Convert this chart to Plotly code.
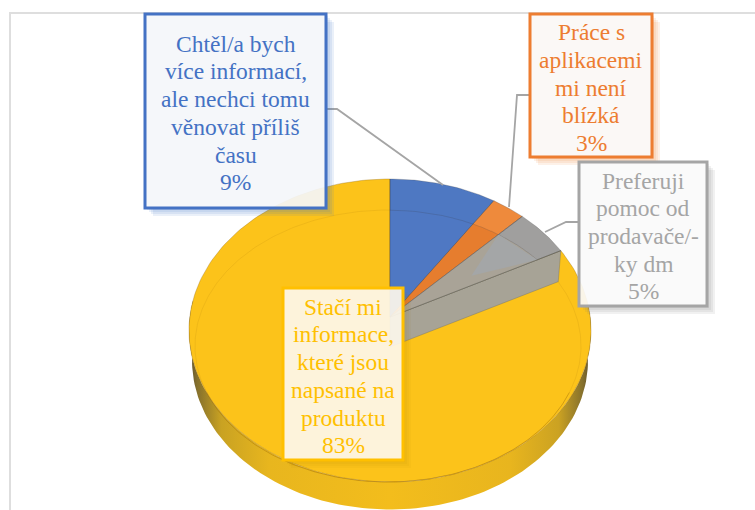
import math
import plotly.graph_objects as go

categories = [["Chtěl/a bych", "více informací,", "ale nechci tomu", "věnovat příliš", "času"],
              ["Práce s", "aplikacemi", "mi není", "blízká"],
              ["Preferuji", "pomoc od", "prodavače/-", "ky dm"],
              ["Stačí mi", "informace,", "které jsou", "napsané na", "produktu"]]
values = [9.4, 3.0, 5.0, 82.6]
pct_labels = ["9%", "3%", "5%", "83%"]
slice_colors = ["#4E78C2", "#EE8A3C", "#A09F9E", "#FCC31A"]
inner_colors = ["#4F78C3", "#E67D2E", "#A9A397", "#FCC31A"]
theme_colors = ["#4472C4", "#ED7D31", "#A5A5A5", "#FFC000"]
box_fills = ["rgba(244,246,250,0.92)", "rgba(251,247,245,0.92)",
             "rgba(250,250,250,0.92)", "rgba(253,247,235,0.92)"]
boxes = [(145, 14, 326, 208), (530, 14, 652, 157), (579, 162, 707, 306), (283, 288, 403, 460)]
leaders = [[(326, 109), (337, 109), (443, 185)],
           [(530, 95), (517, 95), (509, 207)],
           [(579, 222), (566, 222), (545, 232)]]

CX, CY, AX, BY, K = 390.0, 317.0, 200.2, 150.3, 0.0891
DROP, SHRINK = 30.0, 0.985
LINE_H = 27.7


def project(t, scale=1.0, drop=0.0):
    X, Y = math.sin(t), math.cos(t)
    w = 1 + K * Y
    return CX + scale * AX * X / w, CY + drop - scale * BY * Y / w


def arc(t0, t1, n=90, scale=1.0, drop=0.0):
    return [project(t0 + (t1 - t0) * i / n, scale, drop) for i in range(n + 1)]


def ring_pt(x, y):
    return ((x - 388.0) / 193.0) ** 2 + ((y - 346.0) / 136.0) ** 2


def ring_hit(t):
    ex, ey = project(t)
    f = 1.0
    while f > 0 and ring_pt(CX + (ex - CX) * f, CY + (ey - CY) * f) > 1:
        f -= 0.002
    return CX + (ex - CX) * f, CY + (ey - CY) * f


def poly(fig, pts, color=None, line="rgba(0,0,0,0)", width=0, **kw):
    xs = [p[0] for p in pts] + [pts[0][0]]
    ys = [p[1] for p in pts] + [pts[0][1]]
    fig.add_trace(go.Scatter(x=xs, y=ys, mode="lines", fill="toself",
                             fillcolor=color, line=dict(color=line, width=width),
                             hoverinfo="skip", showlegend=False, **kw))


fig = go.Figure()

cum = [0.0]
for v in values:
    cum.append(cum[-1] + v)
ang = [c / 100.0 * 2 * math.pi for c in cum]

# outer wall of the pie
lo, hi = math.radians(100), math.radians(262)
wall = arc(lo - 0.25, hi + 0.25, 120) + arc(hi + 0.25, lo - 0.25, 120, SHRINK, DROP)
poly(fig, wall, fillgradient=dict(type="horizontal", colorscale=[
    [0.0, "#5E5030"], [0.02, "#85702C"], [0.08, "#C9A222"], [0.2, "#E8B61E"],
    [0.5, "#F3BD1C"], [0.8, "#E8B51E"], [0.92, "#CBA222"], [0.98, "#85702C"], [1.0, "#5E5030"]]))

# top face, largest slice first
apex = (CX, CY)
poly(fig, [apex] + arc(ang[3], ang[4], 200), slice_colors[3],
     line="rgba(150,110,25,0.35)", width=1)

# inner ring: faint on the far side, stronger along the front
for a0, a1, col in ((160, 380, "rgba(175,125,15,0.16)"), (20, 160, "rgba(165,115,10,0.5)")):
    n = a1 - a0
    ring_x = [388 + 193 * math.cos(math.radians(a0 + k)) for k in range(n + 1)]
    ring_y = [346 + 136 * math.sin(math.radians(a0 + k)) for k in range(n + 1)]
    fig.add_trace(go.Scatter(x=ring_x, y=ring_y, mode="lines", line=dict(color=col, width=1),
                             hoverinfo="skip", showlegend=False))

# wall of the grey slice
e0 = project(ang[3])
e1 = project(ang[3], SHRINK, DROP)
poly(fig, [apex, e0, e1, (CX, CY + DROP)], "#A7A396", line="rgba(110,105,90,0.35)", width=1)

# small slices with lighter rim
for i in range(3):
    pts = [apex] + arc(ang[i], ang[i + 1], 40)
    poly(fig, pts, slice_colors[i], line="rgba(70,70,70,0.25)", width=1)
    steps = 40
    inner = [ring_hit(ang[i] + (ang[i + 1] - ang[i]) * k / steps) for k in range(steps + 1)]
    poly(fig, [apex] + inner, inner_colors[i])
    fig.add_trace(go.Scatter(x=[p[0] for p in inner], y=[p[1] for p in inner], mode="lines",
                             line=dict(color="rgba(60,60,70,0.2)", width=1),
                             hoverinfo="skip", showlegend=False))

# pale facet in the grey slice
r0 = ring_hit(ang[2])
r1 = ring_hit(ang[3])
mid = (CX + (r0[0] - CX) * 0.75, CY + (r1[1] - CY) * 0.72)
poly(fig, [r0, r1, mid], "#A4A6A7")

# dark edges
for i in (0, 1, 2):
    ex, ey = project(ang[i])
    fig.add_trace(go.Scatter(x=[CX, ex], y=[CY, ey], mode="lines",
                             line=dict(color="rgba(60,60,70,0.35)", width=1),
                             hoverinfo="skip", showlegend=False))
fig.add_trace(go.Scatter(x=[e0[0], CX], y=[e0[1], CY], mode="lines",
                         line=dict(color="rgba(90,90,80,0.55)", width=1),
                         hoverinfo="skip", showlegend=False))

# leader lines
for pts in leaders:
    fig.add_trace(go.Scatter(x=[p[0] for p in pts], y=[p[1] for p in pts], mode="lines",
                             line=dict(color="#A5A5A5", width=1.8),
                             hoverinfo="skip", showlegend=False))

shapes = []
# chart frame
shapes.append(dict(type="line", x0=10, y0=13, x1=755, y1=13, line=dict(color="#DEDEDE", width=2), xref="x", yref="y"))
shapes.append(dict(type="line", x0=10, y0=12, x1=10, y1=510, line=dict(color="#DEDEDE", width=2), xref="x", yref="y"))

SHADOW = ["rgba(68,114,196,0.11)", "rgba(237,125,49,0.11)", "rgba(120,120,120,0.10)", "rgba(150,110,0,0.05)"]
annotations = []
for i, (x0, y0, x1, y1) in enumerate(boxes):
    for d in (8, 6, 4, 2):
        path = (f"M {x1},{y0 + d} L {x1 + d},{y0 + d} L {x1 + d},{y1 + d} "
                f"L {x0 + d},{y1 + d} L {x0 + d},{y1} L {x1},{y1} Z")
        shapes.append(dict(type="path", path=path, fillcolor=SHADOW[i], line=dict(width=0),
                           xref="x", yref="y", layer="above"))
    shapes.append(dict(type="rect", x0=x0, y0=y0, x1=x1, y1=y1, fillcolor=box_fills[i],
                       line=dict(color=theme_colors[i], width=3), xref="x", yref="y", layer="above"))
    lines = categories[i] + [pct_labels[i]]
    top = (y0 + y1) / 2 + 2 - LINE_H * (len(lines) - 1) / 2
    for j, txt in enumerate(lines):
        annotations.append(dict(x=(x0 + x1) / 2, y=top + j * LINE_H, xref="x", yref="y",
                                showarrow=False, text=txt, align="center", yanchor="middle",
                                font=dict(family="Liberation Serif", size=23.5, color=theme_colors[i])))

fig.update_layout(width=755, height=510, margin=dict(l=0, r=0, t=0, b=0),
                  paper_bgcolor="white", plot_bgcolor="white", showlegend=False,
                  xaxis=dict(range=[0, 755], visible=False, fixedrange=True),
                  yaxis=dict(range=[510, 0], visible=False, fixedrange=True),
                  shapes=shapes, annotations=annotations)
fig.write_html("out.html", config={"displayModeBar": False},
               post_script="document.body.style.margin='0';document.body.style.overflow='hidden';")
